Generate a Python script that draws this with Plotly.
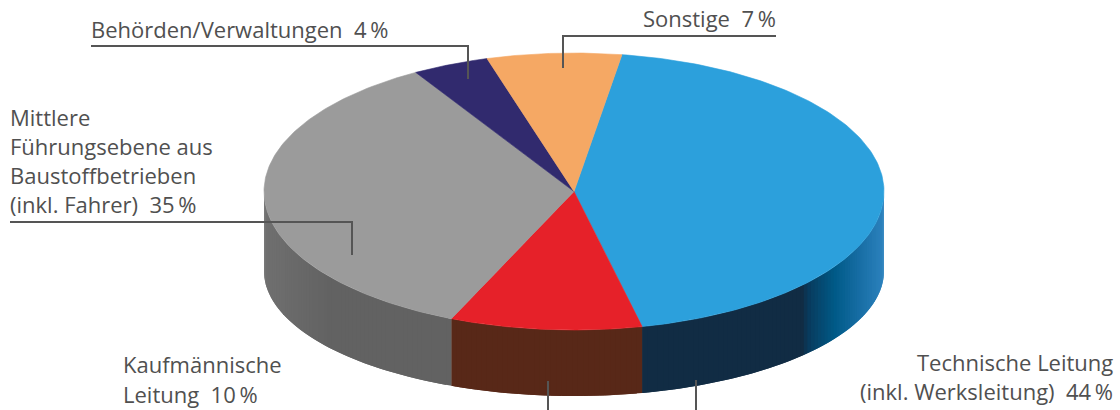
import numpy as np
import plotly.graph_objects as go

# --- data ---
categories = ["Technische Leitung", "Kaufmännische Leitung", "Mittlere Führungsebene", "Behörden/Verwaltungen", "Sonstige"]
shares = [44, 10, 35, 4, 7]
top_colors = ["#2ca0dc", "#e62129", "#9b9b9b", "#312a6e", "#f5a864"]
label_lines = [
    "Sonstige\u00a0\u00a07\u2009%",
    "Behörden/Verwaltungen\u00a0\u00a04\u2009%",
    "Mittlere",
    "Führungsebene aus",
    "Baustoffbetrieben",
    "(inkl. Fahrer)\u00a0\u00a035\u2009%",
    "Kaufmännische",
    "Leitung\u00a0\u00a010\u2009%",
    "Technische Leitung",
    "(inkl. Werksleitung)\u00a0\u00a044\u2009%",
]
label_x = [776, 91, 10, 10, 10, 10, 123, 123, 1113, 1113]
label_y = [18, 29, 117, 146, 175, 204, 364, 394, 362, 391]
label_anchor = ["right", "left", "left", "left", "left", "left", "left", "left", "right", "right"]

leader_x = [[563, 563, 776], [91, 468, 468], [10, 352, 352], [548, 548], [696, 696]]
leader_y = [[68, 36, 36], [46, 46, 79], [222, 222, 255], [381, 410], [380, 410]]

# wall shading: position along x -> colour
blue_wall_x = [640, 802, 808, 835, 860, 884]
blue_wall_rgb = [(17, 44, 68), (17, 44, 68), (8, 58, 92), (0, 90, 136), (24, 110, 165), (44, 130, 190)]
red_wall_x = [450, 642]
red_wall_rgb = [(88, 40, 24), (88, 40, 24)]
grey_wall_x = [264, 330, 450]
grey_wall_rgb = [(112, 112, 112), (98, 98, 98), (98, 98, 98)]

cx, cy, rx, ry = 574, 191.5, 310, 138.5
cy_bottom, ry_bottom = 271, 125
start_angle = 8.9


def rim(theta_deg):
    t = np.radians(theta_deg)
    return cx + rx * np.sin(t), cy - ry * np.cos(t)


def rim_bottom(theta_deg):
    t = np.radians(theta_deg)
    return cx + rx * np.sin(t), cy_bottom - ry_bottom * np.cos(t)


def hexcol(rgb):
    return "rgb(%d,%d,%d)" % tuple(int(round(v)) for v in rgb)


fig = go.Figure()

bounds = start_angle + np.cumsum([0] + shares) * 3.6

# side walls (visible for angles 90..270); each strip overlaps the next to hide seams
walls = [(blue_wall_x, blue_wall_rgb), (red_wall_x, red_wall_rgb), (grey_wall_x, grey_wall_rgb)]
for i, (wx, wc) in enumerate(walls):
    a0, a1 = max(bounds[i], 90), min(bounds[i + 1], 270)
    n = max(2, int((a1 - a0) / 1.0))
    edges = np.linspace(a0, a1, n + 1)
    arr = np.array(wc, dtype=float)
    for j in range(n):
        seg = np.linspace(edges[j], a1 if j == n - 1 else edges[j + 2] if j + 2 <= n else a1, 6)
        xt, yt = rim(seg)
        xb, yb = rim_bottom(seg[::-1])
        xm = float(rim(0.5 * (edges[j] + edges[j + 1]))[0])
        rgb = [np.interp(xm, wx, arr[:, k]) for k in range(3)]
        col = hexcol(rgb)
        fig.add_trace(go.Scatter(
            x=np.r_[xt, xb, xt[0]], y=np.r_[yt, yb, yt[0]], mode="lines", fill="toself",
            fillcolor=col, line=dict(color=col, width=0), hoverinfo="skip", showlegend=False))

# top faces
for i, name in enumerate(categories):
    seg = np.linspace(bounds[i], bounds[i + 1], 160)
    xt, yt = rim(seg)
    fig.add_trace(go.Scatter(
        x=np.r_[cx, xt, cx], y=np.r_[cy, yt, cy], mode="lines", fill="toself", name=name,
        fillcolor=top_colors[i], line=dict(color=top_colors[i], width=0.6), showlegend=False))

# leader lines
for lx, ly in zip(leader_x, leader_y):
    fig.add_trace(go.Scatter(x=lx, y=ly, mode="lines", line=dict(color="#555555", width=2),
                             hoverinfo="skip", showlegend=False))

for t, x, y, a in zip(label_lines, label_x, label_y, label_anchor):
    fig.add_annotation(x=x, y=y, text=t, showarrow=False, xanchor=a, yanchor="middle",
                       xref="x", yref="y", borderpad=0, borderwidth=0,
                       font=dict(family="Open Sans", size=22, color="#505050"))

fig.update_layout(
    width=1120, height=410, margin=dict(l=0, r=0, t=0, b=0),
    paper_bgcolor="white", plot_bgcolor="white",
    xaxis=dict(range=[0, 1120], visible=False, fixedrange=True),
    yaxis=dict(range=[410, 0], visible=False, fixedrange=True),
)
fig.write_html("out.html", post_script="document.body.style.margin='0';document.body.style.overflow='hidden';",
               config={"displayModeBar": False})
